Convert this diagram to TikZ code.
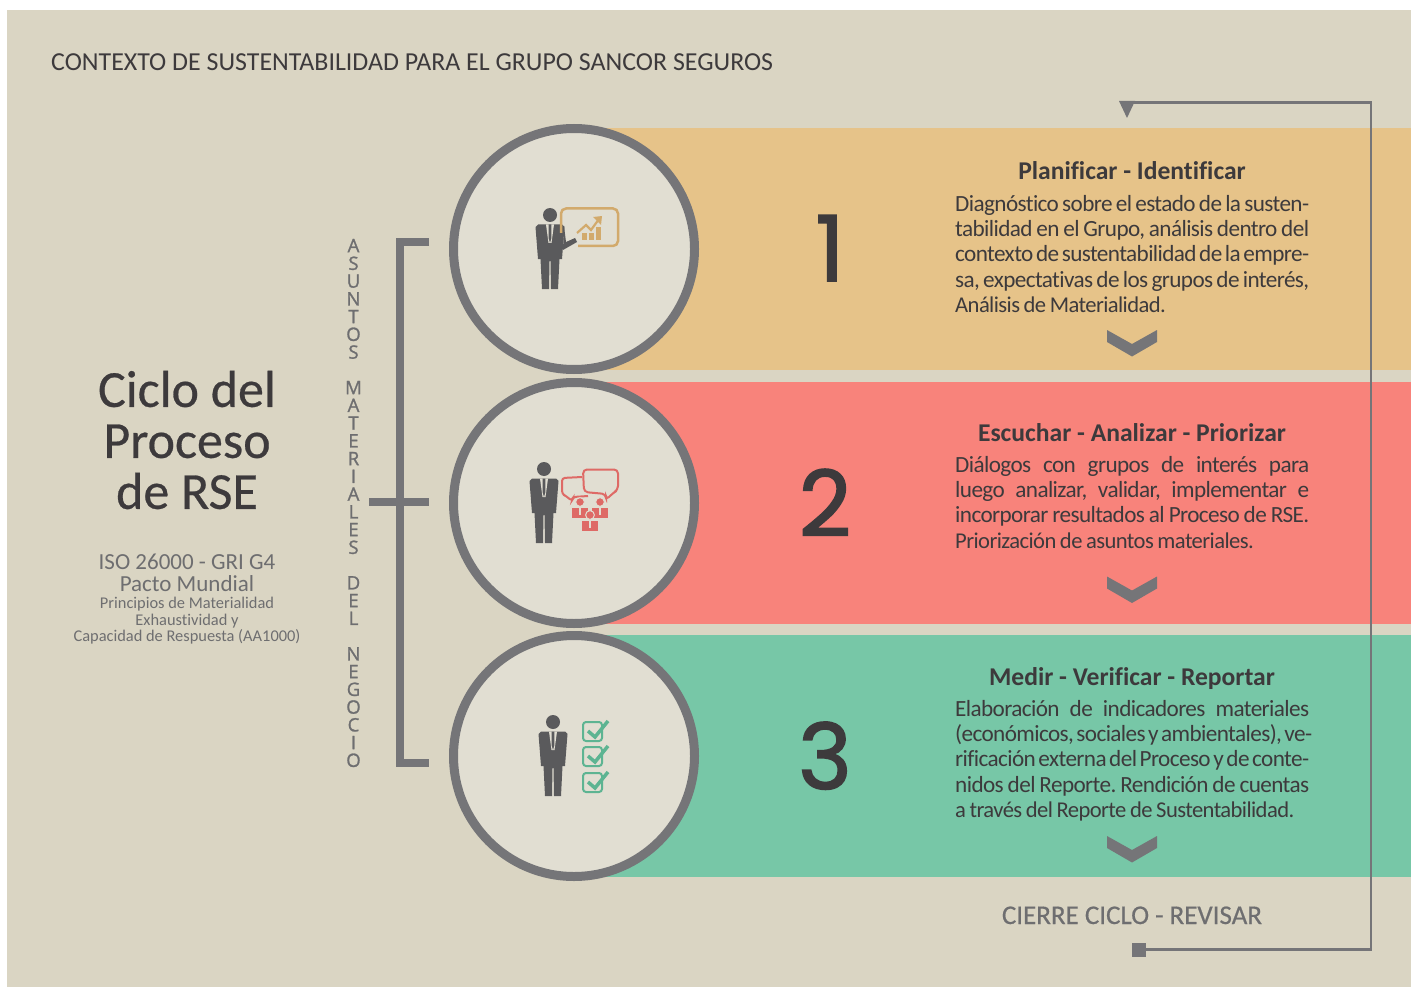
\documentclass[tikz,border=0pt]{standalone}
\usepackage{fontspec}
\setmainfont[Ligatures=NoCommon]{Carlito}
\newfontfamily\bodyfont[LetterSpace=-2.6,WordSpace=0.8,Ligatures=NoCommon]{Carlito}
\newfontfamily\semifont[FakeBold=0.5,Ligatures=NoCommon]{Carlito}
\newfontfamily\stackfont[FakeBold=1.2]{Open Sans}
\newfontfamily\numfont[FakeBold=1.8]{Poppins}
\frenchspacing
\definecolor{pagebg}{HTML}{DAD5C3}
\definecolor{discbg}{HTML}{E1DED2}
\definecolor{ringgray}{HTML}{757578}
\definecolor{bandorange}{HTML}{E6C389}
\definecolor{bandred}{HTML}{F8837B}
\definecolor{bandgreen}{HTML}{77C7A7}
\definecolor{inkdark}{HTML}{3D3A3C}
\definecolor{inkgray}{HTML}{6E6E70}
\definecolor{figgray}{HTML}{5A5A5C}
\definecolor{icontan}{HTML}{D2AA6C}
\definecolor{iconred}{HTML}{DE6A66}
\definecolor{icongreen}{HTML}{5DB492}
\newcommand{\jline}[1]{\makebox[354pt][s]{#1}}
\newcommand{\tailline}[1]{{\fontsize{22.6}{25.3}\selectfont #1}}
\tikzset{
  personicon/.pic={
    \fill[figgray] (0,0) circle (7);
    \fill[figgray] (-12,9.5) -- (12,9.5) -- (14.5,12) -- (12,44) -- (9.5,44) -- (8,74) -- (1,74)
      -- (0.5,46) -- (-0.5,46) -- (-1,74) -- (-8,74) -- (-9.5,44) -- (-12,44) -- (-14.5,12) -- cycle;
    \fill[discbg] (-4,9.5) -- (4,9.5) -- (1.5,28) -- (-1.5,28) -- cycle;
    \fill[figgray] (-1.4,9.5) -- (1.4,9.5) -- (1.4,23) -- (0,28) -- (-1.4,23) -- cycle;
  },
  miniperson/.pic={
    \fill[iconred,draw=discbg,line width=1pt] (0,0) circle (4.4);
    \fill[iconred] (-8,6) -- (8,6) -- (8,16) -- (-8,16) -- cycle;
    \fill[discbg] (-1.2,6) rectangle (1.2,13);
  },
  checkbox/.pic={
    \draw[icongreen,line width=2pt,rounded corners=3] (0,0) rectangle (19,19);
    \draw[icongreen,line width=3.5pt] (5,9) -- (12,15) -- (25,-1);
  },
  chevronmark/.pic={
    \fill[ringgray] (-25,0) -- (0,14) -- (25,0) -- (25,12) -- (0,26.5) -- (-25,12) -- cycle;
  },
  disc/.style={circle,draw=ringgray,fill=discbg,line width=9pt,inner sep=0pt,minimum size=241pt},
  bignum/.style={font=\numfont\fontsize{91}{91}\selectfont,text=inkdark,anchor=base,inner sep=0pt},
  steptitle/.style={font=\fontsize{25.6}{28}\selectfont\bfseries,text=inkdark,anchor=base,inner sep=0pt},
  stepbody/.style={font=\bodyfont\fontsize{23.2}{25.3}\selectfont,text=inkdark,anchor=north west,inner sep=0pt,align=left},
}
\begin{document}
\begin{tikzpicture}[x=1pt,y=-1pt]
\useasboundingbox (0,0) rectangle (1411,987);
\fill[pagebg] (7,10) rectangle (1411,987);

% bands
\fill[bandorange] (574,128) rectangle (1411,370);
\fill[bandred] (574,382) rectangle (1411,624);
\fill[bandgreen] (574,635) rectangle (1411,877);

% closing loop
\coordinate (loopin) at (1127,102.5);
\node[fill=ringgray,inner sep=0pt,minimum size=14pt] (closesq) at (1139,949.7) {};
\draw[ringgray,line width=2.6pt] (loopin) -- (1371,102.5) -- (1371,949.7) -- (closesq);
\fill[ringgray] (1119,101) -- (1135,101) -- (1127,118) -- cycle;

% bracket
\coordinate (brtop) at (429,242);
\coordinate (brbot) at (429,763);
\coordinate (brmidl) at (369,502);
\coordinate (brmidr) at (429,502);
\draw[ringgray,line width=8pt] (brtop) -- (400,242) -- (400,763) -- (brbot);
\draw[ringgray,line width=8pt] (brmidl) -- (brmidr);

\node[disc] (disc1) at (574,249) {};
\node[disc] (disc2) at (574,503) {};
\node[disc] (disc3) at (574,756) {};

% icon 1
\pic at (550,215) {personicon};
\fill[figgray] (564,226) -- (566,242) -- (575,238) -- (577,242) -- (563,250) -- cycle;
\draw[icontan,line width=2.5pt,rounded corners=5] (561,233) -- (561,208.5) -- (618,208.5) -- (618,246) -- (578,246);
\fill[icontan] (582,233) rectangle (587,240);
\fill[icontan] (589,233) rectangle (594,240);
\fill[icontan] (596,227) rectangle (601,240);
\draw[icontan,line width=2.2pt] (577,233) -- (586,225) -- (591,230) -- (599,219);
\fill[icontan] (593,217) -- (602,216) -- (601,225) -- cycle;

% icon 2
\pic at (544,469) {personicon};
\draw[iconred,line width=2pt,rounded corners=3] (582,477) -- (562,478) -- (562,494) -- (566,496) -- (572,501) -- (573,497) -- (588,496);
\draw[iconred,line width=2pt,rounded corners=4] (583,469.5) -- (618,469.5) -- (618,490) -- (613,493) -- (606,500) -- (606,494) -- (584,492) -- cycle;
\pic at (580,502) {miniperson};
\pic at (600,502) {miniperson};
\pic at (590,515) {miniperson};

% icon 3
\pic at (553,722) {personicon};
\pic at (583,722) {checkbox};
\pic at (583,747) {checkbox};
\pic at (583,773) {checkbox};

% numbers
\node[bignum] (num1) at (830,281) {1};
\node[bignum] (num2) at (825,536) {2};
\node[bignum] (num3) at (825,789) {3};

% text of the steps
\node[steptitle] (title1) at (1132,180) {Planificar - Identificar};
\node[stepbody] (body1) at (955,195) {\jline{Diagnóstico sobre el estado de la susten-}\\
\jline{tabilidad en el Grupo, análisis dentro del}\\
\jline{contexto de sustentabilidad de la empre-}\\
\jline{sa, expectativas de los grupos de interés,}\\
\tailline{Análisis de Materialidad.}};
\pic at (1132,330) {chevronmark};

\node[steptitle] (title2) at (1132,441) {Escuchar - Analizar - Priorizar};
\node[stepbody] (body2) at (955,456) {\jline{Diálogos con grupos de interés para}\\
\jline{luego analizar, validar, implementar e}\\
\jline{incorporar resultados al Proceso de RSE.}\\
\tailline{Priorización de asuntos materiales.}};
\pic at (1132,576.5) {chevronmark};

\node[steptitle] (title3) at (1132,685) {Medir - Verificar - Reportar};
\node[stepbody] (body3) at (955,700) {\jline{Elaboración de indicadores materiales}\\
\jline{(económicos, sociales y ambientales), ve-}\\
\jline{rificación externa del Proceso y de conte-}\\
\jline{nidos del Reporte. Rendición de cuentas}\\
\tailline{a través del Reporte de Sustentabilidad.}};
\pic at (1132,836) {chevronmark};

\node[anchor=base,inner sep=0pt,text=inkgray,font=\semifont\fontsize{27}{28}\selectfont] (closing) at (1132,924) {CIERRE CICLO - REVISAR};

% left column
\node[anchor=base west,inner sep=0pt,text=inkdark,font=\fontsize{25.9}{28}\selectfont] (context) at (51,71) {CONTEXTO DE SUSTENTABILIDAD PARA EL GRUPO SANCOR SEGUROS};
\node[align=center,inner sep=0pt,text=inkdark,font=\semifont\fontsize{52}{51}\selectfont] (cycle) at (187,440) {Ciclo del\\Proceso\\de RSE};
\node[align=center,inner sep=0pt,text=inkgray,font=\fontsize{23}{22}\selectfont] (norms) at (187,573) {ISO 26000 - GRI G4\\Pacto Mundial};
\node[align=center,inner sep=0pt,text=inkgray,font=\fontsize{16.4}{16.5}\selectfont] (norms2) at (187,621) {Principios de Materialidad\\Exhaustividad y\\Capacidad de Respuesta (AA1000)};
\node[align=center,inner sep=0pt,text=inkgray,font=\stackfont\fontsize{18.5}{17.75}\selectfont] (stack) at (353.5,503) {A\\S\\U\\N\\T\\O\\S\\~\\M\\A\\T\\E\\R\\I\\A\\L\\E\\S\\~\\D\\E\\L\\~\\N\\E\\G\\O\\C\\I\\O};
\end{tikzpicture}
\end{document}
